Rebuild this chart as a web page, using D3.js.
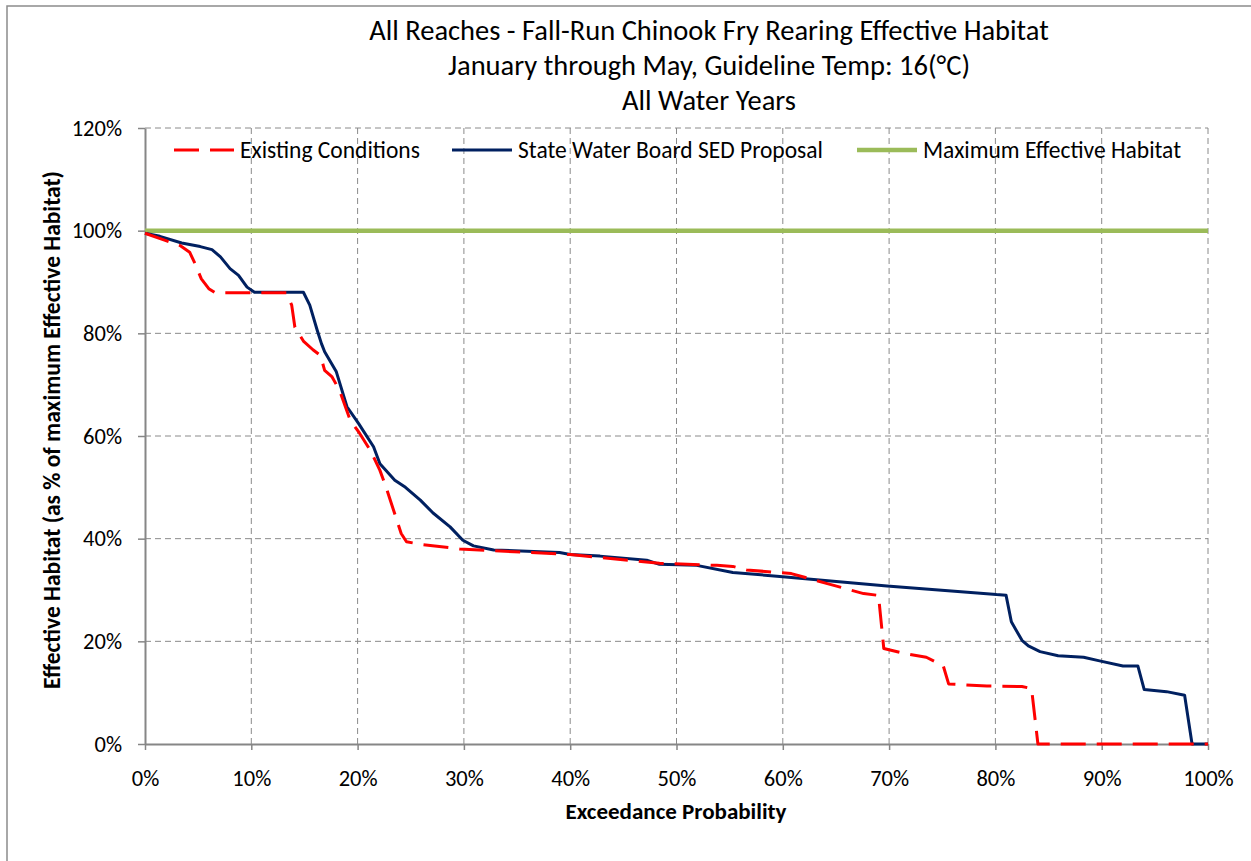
<!DOCTYPE html>
<html lang="en">
<head>
    <meta charset="UTF-8">
    <title>Fry Rearing Effective Habitat</title>
    <script src="https://d3js.org/d3.v7.min.js"></script>
    <style>
        body { margin: 0; background: #fff; }
        text { font-family: Carlito, Calibri, Lato, "Open Sans", sans-serif; fill: #000; }
    </style>
</head>
<body>
    <svg></svg>
    <script>
        const w = 1251;
        const h = 861;

        // exceedance probability (%) and habitat (% of max)
        const existingX = [0, 1.9, 3.3, 4.2, 4.7, 5.3, 6.0, 6.6, 13.3, 13.8, 14.1, 14.9, 15.8, 16.5, 16.9, 17.6, 18.3, 19.3, 20.2, 21.2,
            22.1, 22.6, 24.1, 24.6, 25.9, 29.6, 33.4, 40.0, 46.9, 48.4, 53.8, 55.3, 56.6, 60.8, 64.1, 67.6, 68.8, 69.0, 69.5, 71.3,
            73.5, 75.1, 75.6, 79.2, 82.5, 83.4, 84.0, 100];
        const existingY = [99.5, 98.1, 97.1, 95.8, 93.6, 90.6, 88.7, 87.9, 87.9, 85.5, 81.2, 78.5, 76.8, 75.7, 72.8, 71.5, 68.9, 63.1, 60.5, 57.2,
            53.3, 50.5, 41.0, 39.4, 38.9, 38.0, 37.6, 36.9, 35.5, 35.2, 34.8, 34.6, 33.9, 33.2, 31.3, 29.3, 29.0, 29.0, 18.6, 17.7,
            16.9, 15.2, 11.7, 11.3, 11.2, 10.8, 0, 0];

        const sedX = [0, 1.4, 3.45, 5.2, 6.3, 7.1, 8.0, 8.8, 9.6, 10.3, 14.9, 15.5, 16.2, 16.6, 16.9, 18.0, 19.0, 20.1, 21.5, 22.1,
            23.5, 24.5, 25.9, 27.1, 28.7, 29.9, 30.9, 32.8, 39.0, 40.0, 42.8, 47.2, 48.4, 51.9, 55.3, 60.0, 69.8, 80.1, 81.0, 81.5,
            82.5, 83.1, 84.2, 85.9, 88.3, 89.8, 92.0, 93.4, 94.0, 96.1, 97.8, 98.5, 100];
        const sedY = [99.5, 98.9, 97.6, 96.9, 96.3, 94.9, 92.6, 91.3, 89.0, 88.0, 88.0, 85.5, 80.6, 78.0, 76.4, 72.5, 65.7, 62.4, 57.9, 54.6,
            51.4, 50.0, 47.5, 45.0, 42.3, 39.7, 38.6, 37.8, 37.3, 36.9, 36.6, 35.8, 35.0, 34.8, 33.4, 32.6, 30.8, 29.1, 29.0, 23.8,
            20.2, 19.1, 18.0, 17.2, 16.9, 16.2, 15.2, 15.2, 10.6, 10.2, 9.5, 0, 0];

        const maxX = [0, 100];
        const maxY = [100, 100];

        const xTicks = [0, 10, 20, 30, 40, 50, 60, 70, 80, 90, 100];
        const yTicks = [0, 20, 40, 60, 80, 100, 120];

        const titleLines = [
            'All Reaches - Fall-Run Chinook Fry Rearing Effective Habitat',
            'January through May, Guideline Temp: 16(°C)',
            'All Water Years'
        ];

        const svg = d3.select('svg')
            .attr('width', w)
            .attr('height', h);

        // outer chart frame
        svg.append('rect')
            .attr('x', 7).attr('y', 6)
            .attr('width', w + 10).attr('height', h + 10)
            .attr('fill', 'none')
            .attr('stroke', '#8c8c8c')
            .attr('stroke-width', 1.5);

        const x = d3.scaleLinear().domain([0, 100]).range([145, 1208]);
        const y = d3.scaleLinear().domain([0, 120]).range([744, 128]);

        // gridlines
        svg.append('g')
            .selectAll('line')
            .data(xTicks.filter(d => d > 0))
            .enter()
            .append('line')
            .attr('x1', d => x(d)).attr('x2', d => x(d))
            .attr('y1', y(0)).attr('y2', y(120))
            .attr('stroke', '#8a8a8a')
            .attr('stroke-dasharray', '6,4');
        svg.append('g')
            .selectAll('line')
            .data(yTicks.filter(d => d > 0))
            .enter()
            .append('line')
            .attr('x1', x(0)).attr('x2', x(100))
            .attr('y1', d => y(d)).attr('y2', d => y(d))
            .attr('stroke', '#8a8a8a')
            .attr('stroke-dasharray', '6,4');

        // axes
        const xAxis = svg.append('g')
            .attr('transform', `translate(0, ${y(0)})`)
            .call(d3.axisBottom(x).tickValues(xTicks).tickFormat(d => d + '%').tickSize(6).tickSizeOuter(0));
        const yAxis = svg.append('g')
            .attr('transform', `translate(${x(0)}, 0)`)
            .call(d3.axisLeft(y).tickValues(yTicks).tickFormat(d => d + '%').tickSize(7).tickSizeOuter(0));

        [xAxis, yAxis].forEach(a => {
            a.select('.domain').attr('stroke', '#868686').attr('stroke-width', 2);
            a.selectAll('.tick line').attr('stroke', '#868686').attr('stroke-width', 1.5);
            a.selectAll('.tick text')
                .attr('font-family', 'Carlito, Calibri, Lato, sans-serif')
                .attr('font-size', 22.5)
                .attr('fill', '#000');
        });
        xAxis.selectAll('.tick text').attr('y', 26).attr('dy', '0.71em');
        yAxis.selectAll('.tick text').attr('x', -23);

        const line = d3.line()
            .x(d => x(d[0]))
            .y(d => y(d[1]));

        svg.append('path')
            .datum(maxX.map((d, i) => [d, maxY[i]]))
            .attr('fill', 'none')
            .attr('stroke', '#9bbb59')
            .attr('stroke-width', 4.5)
            .attr('d', line);

        svg.append('path')
            .datum(sedX.map((d, i) => [d, sedY[i]]))
            .attr('fill', 'none')
            .attr('stroke', '#002060')
            .attr('stroke-width', 3)
            .attr('stroke-linejoin', 'round')
            .attr('d', line);

        svg.append('path')
            .datum(existingX.map((d, i) => [d, existingY[i]]))
            .attr('fill', 'none')
            .attr('stroke', '#ff0000')
            .attr('stroke-width', 3)
            .attr('stroke-dasharray', '25,11')
            .attr('stroke-linejoin', 'round')
            .attr('d', line);

        // legend
        const legend = [
            { name: 'Existing Conditions', color: '#ff0000', dash: '25,11', width: 3, x0: 174 },
            { name: 'State Water Board SED Proposal', color: '#002060', dash: null, width: 3, x0: 452 },
            { name: 'Maximum Effective Habitat', color: '#9bbb59', dash: null, width: 4.5, x0: 857 }
        ];
        const lg = svg.append('g');
        legend.forEach(d => {
            lg.append('line')
                .attr('x1', d.x0).attr('x2', d.x0 + 60)
                .attr('y1', 150).attr('y2', 150)
                .attr('stroke', d.color)
                .attr('stroke-width', d.width)
                .attr('stroke-dasharray', d.dash);
            lg.append('text')
                .attr('x', d.x0 + 66)
                .attr('y', 158)
                .attr('font-size', 23.5)
                .text(d.name);
        });

        // titles
        svg.append('g')
            .selectAll('text')
            .data(titleLines)
            .enter()
            .append('text')
            .attr('x', 709)
            .attr('y', (d, i) => 40 + i * 35)
            .attr('text-anchor', 'middle')
            .attr('font-size', 28.5)
            .text(d => d);

        svg.append('text')
            .attr('x', 676)
            .attr('y', 819)
            .attr('text-anchor', 'middle')
            .attr('font-size', 23)
            .attr('font-weight', 'bold')
            .text('Exceedance Probability');

        svg.append('text')
            .attr('transform', 'translate(60, 430) rotate(-90)')
            .attr('text-anchor', 'middle')
            .attr('font-size', 23.5)
            .attr('font-weight', 'bold')
            .text('Effective Habitat (as % of maximum Effective Habitat)');
    </script>
</body>
</html>
